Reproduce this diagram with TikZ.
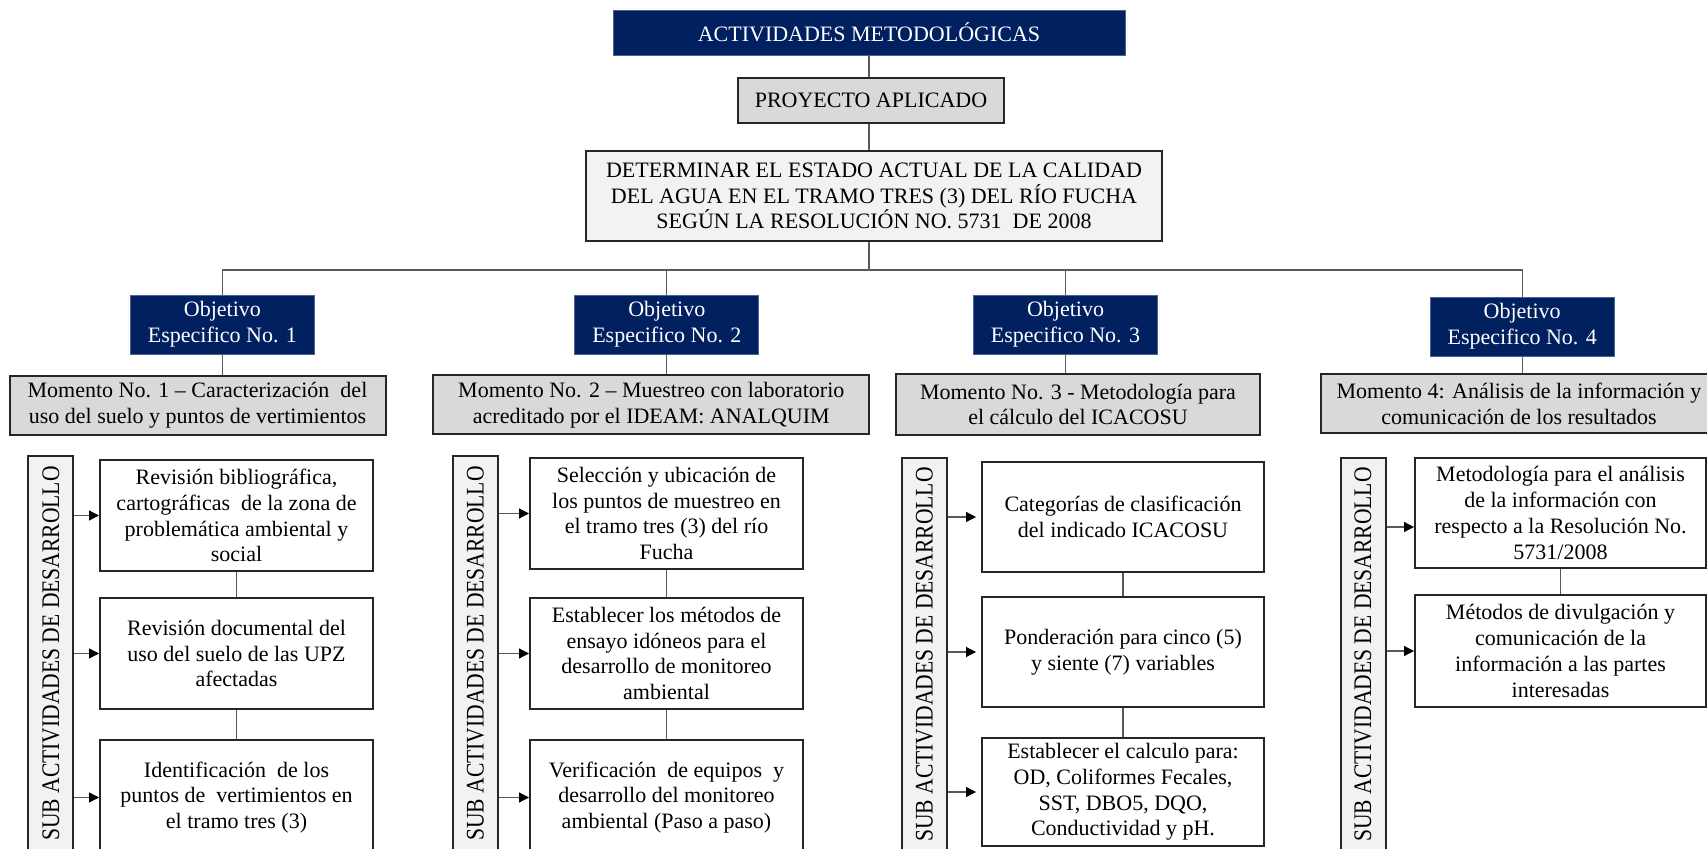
\documentclass[tikz,border=0pt]{standalone}
\usepackage{fontspec}
\setmainfont{Liberation Serif}
\usetikzlibrary{arrows.meta}
\definecolor{azulosc}{HTML}{002060}
\definecolor{grisclaro}{HTML}{F2F2F2}
\definecolor{gris}{HTML}{D9D9D9}
\definecolor{linea}{HTML}{595959}
\definecolor{borde}{HTML}{262626}
\tikzset{
	caja/.style={draw=borde,line width=1pt,align=center,inner sep=0pt,font=\fontsize{11}{12.9}\selectfont},
	azul/.style={caja,draw=azulosc!70,line width=0.4pt,fill=azulosc,text=white},
	objesp/.style={azul,minimum width=92pt,minimum height=29.5pt},
	momento/.style={caja,fill=gris,minimum height=29.5pt},
	barra/.style={caja,fill=grisclaro,minimum width=22.5pt},
	activ/.style={caja,fill=white},
}
\begin{document}
\begin{tikzpicture}[x=0.5pt,y=-0.5pt,
		conn/.style={draw=linea,line width=0.6pt},
		arr/.style={conn,-{Triangle[length=5pt,width=5pt,black]}}]
		\useasboundingbox (0,0) rectangle (1707,849);
		\clip (0,0) rectangle (1707,849);
		
		\node[azul,minimum width=256pt,minimum height=22.5pt] (act) at (869,32.5) {ACTIVIDADES METODOLÓGICAS};
		\node[caja,fill=gris,minimum width=133pt,minimum height=22.5pt] (proy) at (871,100.5) {PROYECTO APLICADO};
		\node[caja,fill=grisclaro,minimum width=288pt,minimum height=45pt] (gen) at (874,196) {DETERMINAR EL ESTADO ACTUAL DE LA CALIDAD\\DEL AGUA EN EL TRAMO TRES (3) DEL RÍO FUCHA\\SEGÚN LA RESOLUCIÓN NO. 5731\ \ DE 2008};
		\coordinate (bus) at (869,270);
		
		\node[objesp] (oe1) at (222.4,324.5) {Objetivo\\Especifico No. 1};
		\node[objesp] (oe2) at (666.8,324.5) {Objetivo\\Especifico No. 2};
		\node[objesp] (oe3) at (1065.5,324.5) {Objetivo\\Especifico No. 3};
		\node[objesp] (oe4) at (1522.2,326.5) {Objetivo\\Especifico No. 4};
		
		\node[momento,minimum width=188pt] (mom1) at (197.5,405.5) {Momento No. 1 -- Caracterización\ \ del\\uso del suelo y puntos de vertimientos};
		\node[momento,minimum width=218pt] (mom2) at (651.3,405) {Momento No. 2 -- Muestreo con laboratorio\\acreditado por el IDEAM: ANALQUIM};
		\node[momento,minimum width=182pt,minimum height=30.5pt] (mom3) at (1078,404.5) {Momento No. 3 - Metodología para\\el cálculo del ICACOSU};
		\node[momento,minimum width=198pt] (mom4) at (1519,403.5) {Momento 4: Análisis de la información y\\comunicación de los resultados};
		
		\node[barra,minimum height=198.5pt] (bar1) at (50.9,654.5) {};
		\node[barra,minimum height=198.5pt] (bar2) at (475.5,654.5) {};
		\node[barra,minimum height=197.5pt] (bar3) at (924.5,655.5) {};
		\node[barra,minimum height=197.5pt] (bar4) at (1363,655.5) {};
		\foreach \i in {1,...,4}
			\node[rotate=90,inner sep=0pt,font=\fontsize{11}{12.9}\selectfont] (sub\i) at ([yshift=0.5pt]bar\i) {\scalebox{0.98}[1.15]{SUB ACTIVIDADES DE DESARROLLO}};
		
		\node[activ,minimum width=136.5pt,minimum height=55.5pt] (a11) at (236.5,515.5) {Revisión bibliográfica,\\cartográficas\ \ de la zona de\\problemática ambiental y\\social};
		\node[activ,minimum width=136.5pt,minimum height=55.5pt] (a12) at (236.5,653.5) {Revisión documental del\\uso del suelo de las UPZ\\afectadas};
		\node[activ,minimum width=136.5pt,minimum height=57.5pt] (a13) at (236.5,797.5) {Identificación\ \ de los\\puntos de\ \ vertimientos en\\el tramo tres (3)};
		
		\node[activ,minimum width=136.5pt,minimum height=55.5pt] (a21) at (666.5,513.5) {Selección y ubicación de\\los puntos de muestreo en\\el tramo tres (3) del río\\Fucha};
		\node[activ,minimum width=136.5pt,minimum height=55.5pt] (a22) at (666.5,653.5) {Establecer los métodos de\\ensayo idóneos para el\\desarrollo de monitoreo\\ambiental};
		\node[activ,minimum width=136.5pt,minimum height=57.5pt] (a23) at (666.5,797.5) {Verificación\ \ de equipos\ \ y\\desarrollo del monitoreo\\ambiental (Paso a paso)};
		
		\node[activ,minimum width=141pt,minimum height=55pt] (a31) at (1123,517) {Categorías de clasificación\\del indicado ICACOSU};
		\node[activ,minimum width=141pt,minimum height=55pt] (a32) at (1123,652) {Ponderación para cinco (5)\\y siente (7) variables};
		\node[activ,minimum width=141pt,minimum height=54pt] (a33) at (1123,792) {Establecer el calculo para:\\OD, Coliformes Fecales,\\SST, DBO5, DQO,\\Conductividad y pH.};
		
		\node[activ,minimum width=145.5pt,minimum height=55pt] (a41) at (1560.5,513) {Metodología para el análisis\\de la información con\\respecto a la Resolución No.\\5731/2008};
		\node[activ,minimum width=145.5pt,minimum height=56pt] (a42) at (1560.5,651) {Métodos de divulgación y\\comunicación de la\\información a las partes\\interesadas};
		
		\draw[conn] (act.south) -- (act.south |- proy.north);
		\draw[conn] (act.south |- proy.south) -- (act.south |- gen.north);
		\draw[conn] (act.south |- gen.south) -- (bus);
		\draw[conn] (oe1.north) |- (bus) -| (oe4.north);
		\draw[conn] (oe2.north) -- (oe2.north |- bus);
		\draw[conn] (oe3.north) -- (oe3.north |- bus);
		\foreach \i in {1,...,4}
			\draw[conn] (oe\i.south) -- (oe\i.south |- mom\i.north);
		
		\foreach \c in {1,2,3}{
			\draw[conn] (a\c1) -- (a\c2);
			\draw[conn] (a\c2) -- (a\c3);
		}
		\draw[conn] (a41) -- (a42);
		
		\foreach \c in {1,2}
			\foreach \j in {1,2,3}
				\draw[arr] (bar\c.east |- a\c\j.west) -- (a\c\j.west);
		\foreach \j in {1,2,3}
			\draw[arr,shorten >=2.5pt] (bar3.east |- a3\j.west) -- (a3\j.west);
		\draw[arr] (bar4.east |- a41.west) ++(0,14) -- ([yshift=-7pt]a41.west);
		\draw[arr] (bar4.east |- a42.west) -- (a42.west);
	\end{tikzpicture}
\end{document}
